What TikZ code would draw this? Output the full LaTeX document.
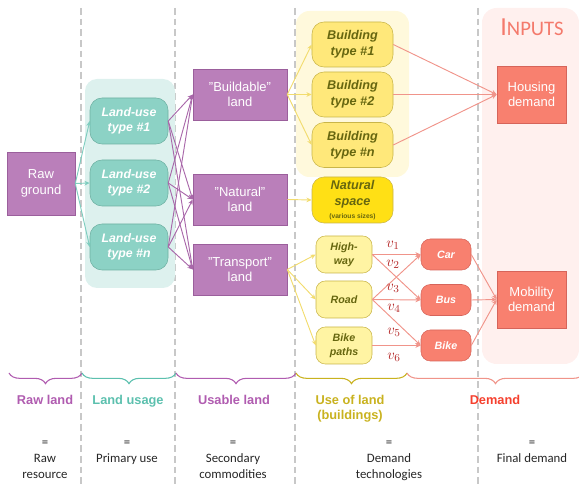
\documentclass[tikz,border=0pt]{standalone}
\usepackage{fontspec}
\setmainfont{Liberation Sans}
\newfontfamily\carlito{Carlito}
\usetikzlibrary{arrows.meta, decorations.pathreplacing, positioning}

\definecolor{purpfill}{HTML}{BA7FBA}
\definecolor{purpdraw}{HTML}{9B5F9C}
\definecolor{purpedge}{HTML}{A968AA}
\definecolor{purplbl}{HTML}{B05CB0}
\definecolor{tealfill}{HTML}{8CD2C5}
\definecolor{tealdraw}{HTML}{6DB0A2}
\definecolor{tealbg}{HTML}{DDF1EE}
\definecolor{tealedge}{HTML}{7ECDBF}
\definecolor{teallbl}{HTML}{5CC0AE}
\definecolor{yelfill}{HTML}{FFE87A}
\definecolor{yeldraw}{HTML}{C9B548}
\definecolor{natfill}{HTML}{FFE015}
\definecolor{yellight}{HTML}{FFF4A3}
\definecolor{yelbg}{HTML}{FFF9DC}
\definecolor{yeledge}{HTML}{F2DC6E}
\definecolor{yellbl}{HTML}{C9B21F}
\definecolor{olive}{HTML}{66660F}
\definecolor{salfill}{HTML}{F8806F}
\definecolor{saldraw}{HTML}{D6645A}
\definecolor{saledge}{HTML}{F0948A}
\definecolor{pinkbg}{HTML}{FFF0EE}
\definecolor{demlbl}{HTML}{F5402E}
\definecolor{inputs}{HTML}{F47A6C}
\definecolor{vred}{HTML}{B52A2A}
\definecolor{dashgray}{HTML}{C8C8C8}

\tikzset{
  box/.style={draw, inner sep=0pt, align=center, text=white,
    font=\fontsize{9.75}{11.5}\selectfont},
  rawbox/.style={box, fill=purpfill, draw=purpdraw},
  lubox/.style={box, fill=tealfill, draw=tealdraw, rounded corners=9pt,
    minimum width=58.5pt, minimum height=34.5pt,
    font=\fontsize{9.25}{11.5}\selectfont\bfseries\itshape},
  bldbox/.style={box, fill=yelfill, draw=yeldraw, rounded corners=9pt, text=olive,
    minimum width=60.75pt, minimum height=33.75pt,
    font=\fontsize{9.5}{12}\selectfont\bfseries\itshape},
  trbox/.style={box, fill=yellight, draw=yeldraw, rounded corners=7pt, text=olive,
    minimum width=42pt, minimum height=27.75pt,
    font=\fontsize{8}{10.5}\selectfont\bfseries\itshape},
  modebox/.style={box, fill=salfill, draw=saldraw, rounded corners=7pt,
    minimum width=37.5pt, minimum height=23.25pt,
    font=\fontsize{8}{10}\selectfont\bfseries\itshape},
  dembox/.style={box, fill=salfill, draw=saldraw,
    minimum width=51.75pt, minimum height=42.75pt},
  arr/.style={-{Stealth[length=4pt,width=3.5pt]}, line width=0.7pt},
  grouplbl/.style={anchor=base, align=center,
    font=\fontsize{9.6}{11.25}\selectfont\bfseries},
  desc/.style={anchor=base, align=center, text=black!85,
    font=\carlito\fontsize{9.6}{12}\selectfont},
  vlbl/.style={text=vred, font=\fontsize{11}{12}\selectfont},
  brc/.style={decorate, decoration={brace, mirror, amplitude=8pt}, line width=0.8pt}
}

\begin{document}
\begin{tikzpicture}[x=0.75pt, y=-0.75pt]
  \useasboundingbox (0,0) rectangle (579,488);

  % column separators
  \foreach \x in {81,175,295,478}
    \draw[dashgray, line width=0.8pt, dash pattern=on 5pt off 3pt] (\x,8) -- (\x,488);

  % group backgrounds
  \fill[tealbg, rounded corners=9pt] (85,79) rectangle (175,288);
  \fill[yelbg, rounded corners=10pt] (296,11) rectangle (409,177);
  \fill[pinkbg, rounded corners=11pt] (482,8) rectangle (579,364);
  \node[inputs, anchor=base, font=\carlito] (inp) at (532,36)
    {{\fontsize{19.5}{20}\selectfont I}{\fontsize{15.5}{20}\selectfont NPUTS}};

  % raw land
  \node[rawbox, minimum width=51pt, minimum height=47.25pt] (raw) at (41,183.5) {Raw\\ground};

  % land usage
  \node[lubox] (lu1) at (129,121) {Land-use\\type \#1};
  \node[lubox] (lu2) at (129,183) {Land-use\\type \#2};
  \node[lubox] (lun) at (129,247) {Land-use\\type \#n};

  % usable land
  \node[rawbox, minimum width=70.5pt, minimum height=38.25pt] (build) at (240,94.5) {"Buildable"\\land};
  \node[rawbox, minimum width=70.5pt, minimum height=38.25pt] (nat) at (240,199.5) {"Natural"\\land};
  \node[rawbox, minimum width=70.5pt, minimum height=38.25pt] (trans) at (240,269.5) {"Transport"\\land};

  % use of land
  \node[bldbox] (bt1) at (352.5,44.5) {Building\\type \#1};
  \node[bldbox] (bt2) at (352.5,94.5) {Building\\type \#2};
  \node[bldbox] (btn) at (352.5,145) {Building\\type \#n};
  \node[bldbox, fill=natfill, minimum height=34.5pt] (natsp) at (352.5,200)
    {Natural\\space\\[-2pt]{\fontsize{5}{6}\selectfont\upshape (various sizes)}};
  \node[trbox] (hway) at (344,254.5) {High-\\way};
  \node[trbox] (road) at (344,299.5) {Road};
  \node[trbox] (bpath) at (344,345.5) {Bike\\paths};

  % demand
  \node[modebox] (car) at (446,254.5) {Car};
  \node[modebox] (bus) at (446,300) {Bus};
  \node[modebox] (bike) at (446,345.5) {Bike};
  \node[dembox] (housing) at (531.5,94.5) {Housing\\demand};
  \node[dembox] (mobility) at (531.5,299.5) {Mobility\\demand};

  % links
  \foreach \n in {lu1,lu2,lun}
    \draw[arr, tealedge] (raw.east) -- (\n.west);
  \foreach \a in {lu1,lu2,lun}
    \foreach \b in {build,nat,trans}
      \draw[arr, purpedge] (\a.east) -- (\b.west);
  \foreach \n in {bt1,bt2,btn}
    \draw[arr, yeledge] (build.east) -- (\n.west);
  \draw[arr, yeledge] (nat.east) -- (natsp.west);
  \foreach \n in {hway,road,bpath}
    \draw[arr, yeledge] (trans.east) -- (\n.west);
  \foreach \n in {bt1,bt2,btn}
    \draw[arr, saledge] (\n.east) -- (housing.west);
  \draw[arr, saledge] (hway.east) -- (car.west);
  \draw[arr, saledge] (hway.east) -- (bus.west);
  \draw[arr, saledge] (road.east) -- (car.west);
  \draw[arr, saledge] (road.east) -- (bus.west);
  \draw[arr, saledge] (road.east) -- (bike.west);
  \draw[arr, saledge] (bpath.east) -- (bike.west);
  \foreach \n in {car,bus,bike}
    \draw[arr, saledge] (\n.east) -- (mobility.west);

  % flow labels
  \node[vlbl] (v1) at (393,245) {$v_1$};
  \node[vlbl] (v2) at (393,264) {$v_2$};
  \node[vlbl] (v3) at (393,288) {$v_3$};
  \node[vlbl] (v4) at (394,308) {$v_4$};
  \node[vlbl] (v5) at (394,332) {$v_5$};
  \node[vlbl] (v6) at (394,357) {$v_6$};

  % braces
  \draw[brc, purplbl] (9,373) -- (82,373);
  \draw[brc, teallbl] (82,373) -- (176,373);
  \draw[brc, purplbl] (176,373) -- (296,373);
  \draw[brc, yellbl] (296,373) -- (407,373);
  \draw[brc, saledge] (407,373) -- (584,373);

  \node[grouplbl, purplbl] (rawlbl) at (45,405) {Raw land};
  \node[grouplbl, teallbl] (lulbl) at (128,405) {Land usage};
  \node[grouplbl, purplbl] (uselbl) at (234,405) {Usable land};
  \node[grouplbl, yellbl] (bldlbl) at (350,420) {Use of land\\(buildings)};
  \node[grouplbl, demlbl] (demlbl) at (495,405) {Demand};

  \node[desc] (rawdesc) at (45,479) {=\\Raw\\resource};
  \node[desc] (ludesc) at (127,463) {=\\Primary use};
  \node[desc] (usedesc) at (233,479) {=\\Secondary\\commodities};
  \node[desc] (blddesc) at (389,479) {=\\Demand\\technologies};
  \node[desc] (demdesc) at (532,463) {=\\Final demand};
\end{tikzpicture}
\end{document}
